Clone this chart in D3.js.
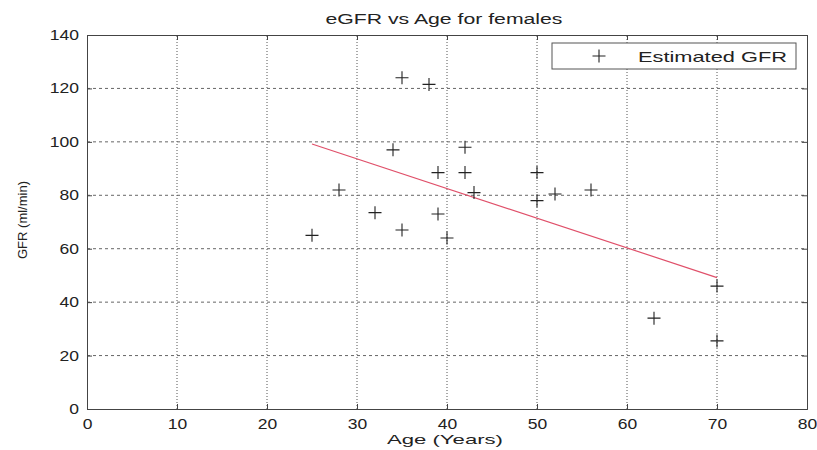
<!DOCTYPE html>
<html>
<head>
<meta charset="utf-8">
<script src="https://cdn.jsdelivr.net/npm/d3@7"></script>
<style>
  body { margin: 0; background: #fff; }
  text { font-family: "Liberation Sans", Arial, sans-serif; fill: #222; }
</style>
</head>
<body>
<svg id="chart"></svg>
<script>
// Chart size
const width = 817;
const height = 450;
const margin = {top: 35, right: 10, bottom: 41, left: 87};

// Data
const ages = [25, 28, 32, 34, 35, 35, 38, 39, 39, 40, 42, 42, 43, 50, 50, 52, 56, 63, 70, 70];
const gfr = [65, 82, 73.5, 97, 124, 67, 121.5, 88.5, 73, 64, 98, 88.5, 81, 88.5, 78, 80.5, 82, 34, 46, 25.5];
const fitAges = [25, 70];
const fitGfr = [99.2, 49.2];
const xTicks = [0, 10, 20, 30, 40, 50, 60, 70, 80];
const yTicks = [0, 20, 40, 60, 80, 100, 120, 140];

const svg = d3.select("#chart")
	.attr("width", width)
	.attr("height", height);

const x = d3.scaleLinear().domain([0, 80]).range([margin.left, width - margin.right]);
const y = d3.scaleLinear().domain([0, 140]).range([height - margin.bottom, margin.top]);

// stretch text horizontally, the original picture is wider than tall
function stretch(sel, factor) {
	sel.each(function() {
		const len = this.getComputedTextLength();
		d3.select(this).attr("textLength", len * factor).attr("lengthAdjust", "spacingAndGlyphs");
	});
}

// Grid lines
svg.append("g")
	.selectAll("line")
	.data(yTicks.slice(1, -1))
	.join("line")
	.attr("x1", x(0)).attr("x2", x(80))
	.attr("y1", d => y(d)).attr("y2", d => y(d))
	.attr("stroke", "#666")
	.attr("stroke-dasharray", "3,3");

svg.append("g")
	.selectAll("line")
	.data(xTicks.slice(1, -1))
	.join("line")
	.attr("y1", y(0)).attr("y2", y(140))
	.attr("x1", d => x(d)).attr("x2", d => x(d))
	.attr("stroke", "#555")
	.attr("stroke-dasharray", "1,2");

// Axes
const xAxis = svg.append("g")
	.attr("transform", `translate(0,${y(0)})`)
	.call(d3.axisBottom(x).tickValues(xTicks).tickSize(-5).tickPadding(8));
const yAxis = svg.append("g")
	.attr("transform", `translate(${x(0)},0)`)
	.call(d3.axisLeft(y).tickValues(yTicks).tickSize(-5).tickPadding(8));
svg.append("g")
	.attr("transform", `translate(0,${y(140)})`)
	.call(d3.axisTop(x).tickValues(xTicks).tickSize(-5).tickFormat(""));
svg.append("g")
	.attr("transform", `translate(${x(80)},0)`)
	.call(d3.axisRight(y).tickValues(yTicks).tickSize(-5).tickFormat(""));

svg.selectAll(".domain, .tick line").attr("stroke", "#444");
svg.selectAll(".tick text")
	.attr("font-family", "Liberation Sans, Arial, sans-serif")
	.attr("font-size", 14)
	.attr("fill", "#222");
stretch(xAxis.selectAll(".tick text"), 1.25);
stretch(yAxis.selectAll(".tick text"), 1.25);
xAxis.selectAll(".tick text").attr("dy", "0.85em");

// Regression line
svg.append("line")
	.attr("x1", x(fitAges[0])).attr("y1", y(fitGfr[0]))
	.attr("x2", x(fitAges[1])).attr("y2", y(fitGfr[1]))
	.attr("stroke", "#e0506a")
	.attr("stroke-width", 1.2);

// Plus markers
svg.append("g")
	.selectAll("path")
	.data(ages.map((a, i) => [a, gfr[i]]))
	.join("path")
	.attr("d", "M-6.5,0H6.5M0,-6.5V6.5")
	.attr("transform", d => `translate(${x(d[0])},${y(d[1])})`)
	.attr("stroke", "#222")
	.attr("stroke-width", 1.1)
	.attr("fill", "none");

// Legend
const legend = svg.append("g");
legend.append("rect")
	.attr("x", 552).attr("y", 43)
	.attr("width", 244).attr("height", 26)
	.attr("fill", "#fff")
	.attr("stroke", "#555");
legend.append("path")
	.attr("d", "M-6.5,0H6.5M0,-6.5V6.5")
	.attr("transform", "translate(599,56)")
	.attr("stroke", "#222")
	.attr("stroke-width", 1.1);
legend.append("text")
	.attr("x", 638).attr("y", 61.5)
	.attr("font-size", 15)
	.attr("textLength", 149)
	.attr("lengthAdjust", "spacingAndGlyphs")
	.text("Estimated GFR");

// Title and labels
svg.append("text")
	.attr("x", 444).attr("y", 24)
	.attr("text-anchor", "middle")
	.attr("font-size", 14)
	.attr("textLength", 237)
	.attr("lengthAdjust", "spacingAndGlyphs")
	.text("eGFR vs Age for females");

svg.append("text")
	.attr("x", 445).attr("y", 444)
	.attr("text-anchor", "middle")
	.attr("font-size", 13.5)
	.attr("textLength", 116)
	.attr("lengthAdjust", "spacingAndGlyphs")
	.text("Age (Years)");

svg.append("text")
	.attr("transform", "translate(27,220) rotate(-90)")
	.attr("text-anchor", "middle")
	.attr("font-size", 13)
	.attr("fill", "#222")
	.text("GFR (ml/min)");
</script>
</body>
</html>
